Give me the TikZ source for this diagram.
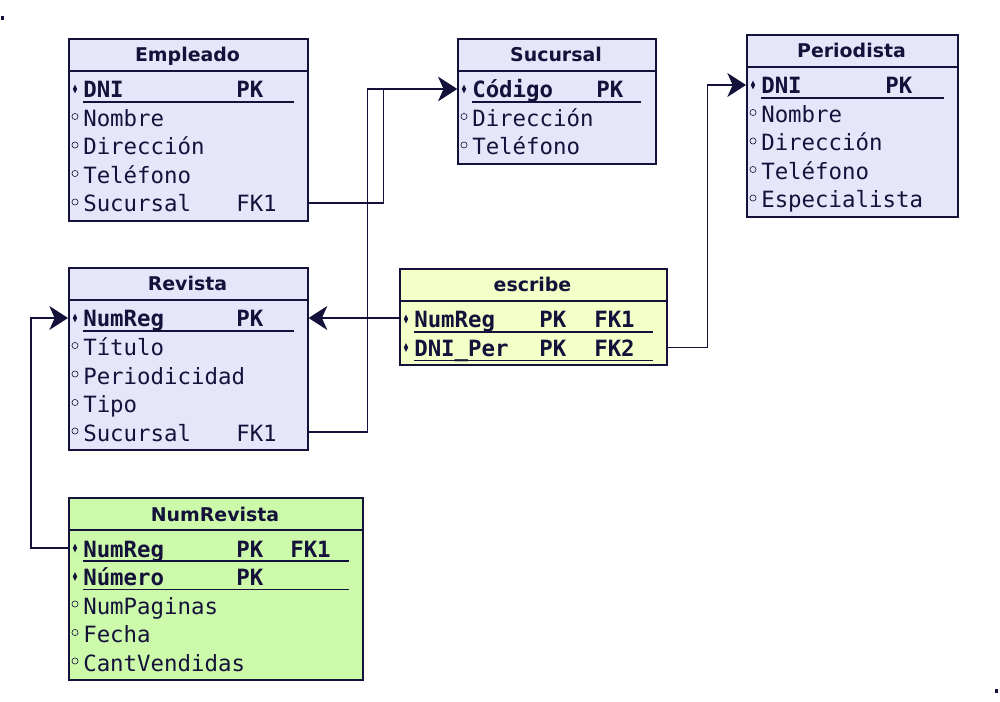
\documentclass[tikz,border=0pt]{standalone}
\usepackage{fontspec}
\newfontfamily\monofont{DejaVu Sans Mono}
\newfontfamily\headfont{DejaVu Sans}
\usetikzlibrary{arrows.meta}
\definecolor{ink}{RGB}{20,18,58}
\definecolor{lavender}{RGB}{230,230,250}
\definecolor{lemon}{RGB}{245,255,200}
\definecolor{mint}{RGB}{204,250,170}

\begin{document}
\begin{tikzpicture}[x=0.75pt, y=-0.75pt,
                    box/.style={draw=ink, line width=1.2pt, inner sep=0pt, anchor=north west},
                    headtxt/.style={anchor=base, inner sep=0pt, text=ink,
                                    font=\headfont\bfseries\fontsize{14.2}{16}\selectfont},
                    field/.style={anchor=base west, inner sep=0pt, text=ink,
                                  font=\monofont\fontsize{16.8}{19}\selectfont},
                    pkfield/.style={field, font=\monofont\bfseries\fontsize{16.8}{19}\selectfont},
                    link/.style={draw=ink, line width=1.1pt},
                    tip/.style={-{Stealth[length=14pt, width=18pt, inset=4pt]}}]
  \useasboundingbox (0,0) rectangle (1000,702);

  \def\drawEntity#1#2#3#4#5#6#7{ % id, title, left, top, width, rows, fill
    \node[box, fill=#7, minimum width=#5*0.75pt, minimum height=32*0.75pt] (#1-head) at (#3,#4) {};
    \node[box, fill=#7, minimum width=#5*0.75pt,
          minimum height={(36+28.5*(#6-1))*0.75pt}] (#1) at (#3,#4+32) {};
    \node[headtxt] (#1-title) at (#3+#5/2,#4+24) {#2};
    \foreach \pk/\fname/\keyA/\keyB [count=\i] in \rows {
      \pgfmathsetmacro\by{#4+60+28.5*(\i-1)}
      \coordinate (#1-r\i) at (#3,\by-9);
      \ifnum\pk=1
        \fill[ink] (#3+7,\by-13.5) -- (#3+9.2,\by-9) -- (#3+7,\by-4.5) -- (#3+4.8,\by-9) -- cycle;
        \draw[ink, line width=1.1pt] (#3+15,\by+4) -- (\ulX,\by+4);
        \node[pkfield] (#1-\i) at (#3+15,\by) {\fname};
        \node[pkfield] at (\pkX,\by) {\keyA};
        \node[pkfield] at (\fkX,\by) {\keyB};
      \else
        \draw[ink, line width=0.45pt] (#3+7,\by-10) circle[radius=2.3pt];
        \node[field] (#1-\i) at (#3+15,\by) {\fname};
        \node[field] at (\pkX,\by) {\keyA};
      \fi
    }
  }

  % entities
  \def\pkX{236}\def\fkX{290}\def\ulX{294}
  \def\rows{1/DNI/PK/{}, 0/Nombre/{}/{}, 0/Dirección/{}/{}, 0/Teléfono/{}/{}, 0/Sucursal/FK1/{}}
  \drawEntity{emp}{Empleado}{68}{38}{239}{5}{lavender}

  \def\pkX{596}\def\ulX{641}
  \def\rows{1/Código/PK/{}, 0/Dirección/{}/{}, 0/Teléfono/{}/{}}
  \drawEntity{suc}{Sucursal}{457}{38}{198}{3}{lavender}

  \def\pkX{885}\def\ulX{944}
  \def\rows{1/DNI/PK/{}, 0/Nombre/{}/{}, 0/Dirección/{}/{}, 0/Teléfono/{}/{}, 0/Especialista/{}/{}}
  \drawEntity{per}{Periodista}{746}{34}{211}{5}{lavender}

  \def\pkX{236}\def\ulX{294}
  \def\rows{1/NumReg/PK/{}, 0/Título/{}/{}, 0/Periodicidad/{}/{}, 0/Tipo/{}/{}, 0/Sucursal/FK1/{}}
  \drawEntity{rev}{Revista}{68}{267}{239}{5}{lavender}

  \def\pkX{539}\def\fkX{594}\def\ulX{653}
  \def\rows{1/NumReg/PK/FK1, 1/DNI\_Per/PK/FK2}
  \drawEntity{esc}{escribe}{399}{268}{267}{2}{lemon}

  \def\pkX{236}\def\fkX{290}\def\ulX{349}
  \def\rows{1/NumReg/PK/FK1, 1/Número/PK/{}, 0/NumPaginas/{}/{}, 0/Fecha/{}/{}, 0/CantVendidas/{}/{}}
  \drawEntity{nrv}{NumRevista}{68}{497}{294}{5}{mint}

  % foreign keys
  \draw[link, tip] (emp.east |- emp-r5) -- ++(75,0) |- (suc.west |- suc-r1);
  \draw[link, tip] (rev.east |- rev-r5) -- ++(59,0) |- (suc.west |- suc-r1);
  \draw[link, tip] (esc.west |- rev-r1) -- (rev.east |- rev-r1);
  \draw[link, tip] (esc.east |- esc-r2) -- ++(40,0) |- (per.west |- per-r1);
  \draw[link, tip] (nrv.west |- nrv-r1) -- ++(-37,0) |- (rev.west |- rev-r1);

  % corner marks
  \fill[ink] (1,16) rectangle (4,20);
  \fill[ink] (995,689) rectangle (998,693);
\end{tikzpicture}
\end{document}
